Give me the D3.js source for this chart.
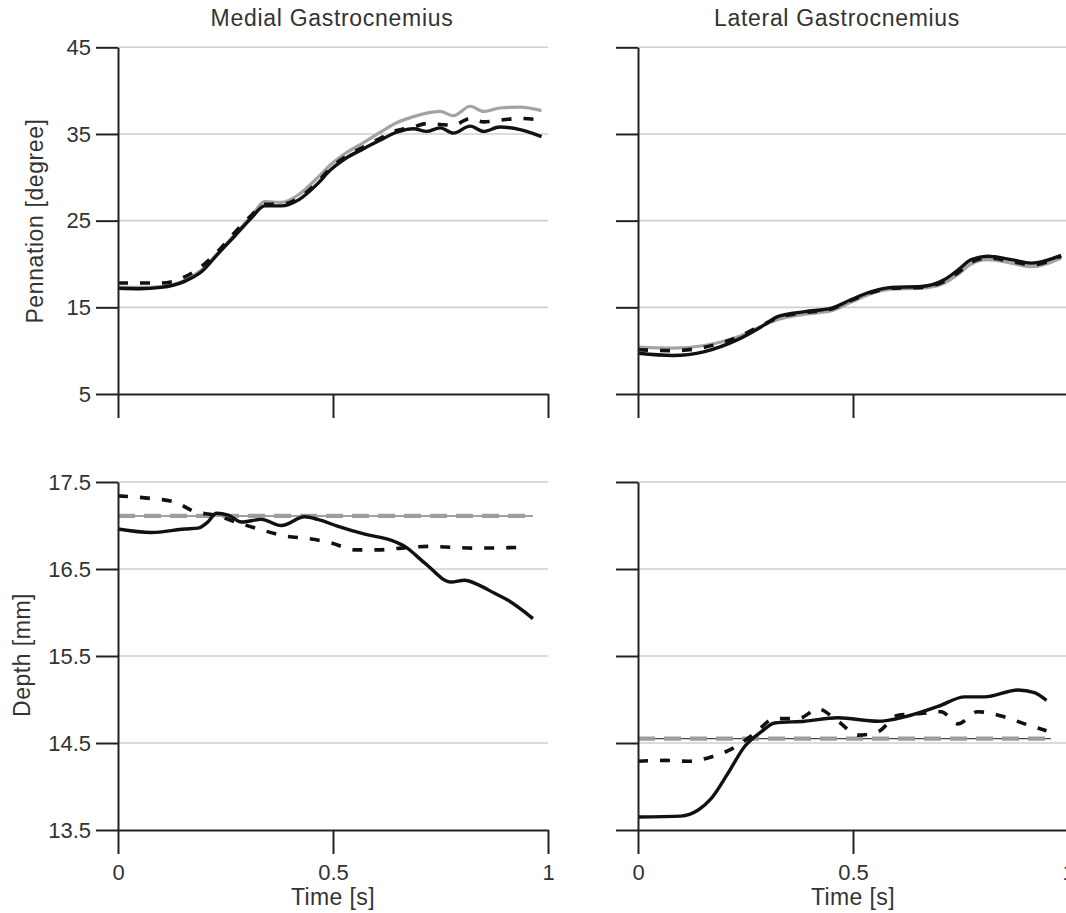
<!DOCTYPE html>
<html>
<head>
<meta charset="utf-8">
<script src="https://cdn.jsdelivr.net/npm/d3@7"></script>
<style>
  html, body { margin: 0; padding: 0; background: #fff; }
  svg { display: block; }
  text { font-family: "Liberation Sans", Arial, Helvetica, sans-serif; fill: #333; }
</style>
</head>
<body>
<svg id="chart" width="1066" height="913"></svg>
<script>
// ---- Pennation angle, medial gastrocnemius ----
const mgPennTime   = [0, 0.05, 0.1, 0.155, 0.194, 0.233, 0.271, 0.31, 0.341, 0.38, 0.42, 0.465, 0.493, 0.53, 0.571, 0.61, 0.648, 0.687, 0.718, 0.749, 0.78, 0.819, 0.85, 0.888, 0.935, 0.985];
const mgPennSolid  = [17.2, 17.15, 17.3, 18.0, 19.1, 21.2, 23.2, 25.3, 26.7, 26.7, 27.4, 29.3, 30.8, 32.2, 33.3, 34.3, 35.2, 35.6, 35.3, 35.7, 35.1, 35.9, 35.3, 35.8, 35.5, 34.7];
const mgPennDashed = [17.8, 17.8, 17.8, 18.5, 19.7, 21.5, 23.6, 25.6, 26.9, 26.9, 27.6, 29.5, 31.0, 32.4, 33.5, 34.5, 35.4, 35.8, 36.2, 36.1, 36.0, 36.8, 36.4, 36.6, 36.8, 36.6];
const mgPennGray   = [17.3, 17.3, 17.4, 18.1, 19.3, 21.3, 23.4, 25.5, 27.2, 27.1, 28.0, 30.0, 31.4, 32.8, 34.0, 35.2, 36.3, 37.0, 37.4, 37.6, 37.1, 38.2, 37.6, 38.0, 38.1, 37.7];

// ---- Pennation angle, lateral gastrocnemius ----
const lgPennTime   = [0, 0.08, 0.155, 0.233, 0.295, 0.326, 0.388, 0.45, 0.496, 0.543, 0.589, 0.659, 0.713, 0.744, 0.775, 0.814, 0.868, 0.915, 0.984];
const lgPennSolid  = [9.7, 9.45, 9.9, 11.3, 13.0, 13.95, 14.5, 14.9, 15.9, 16.8, 17.3, 17.4, 18.2, 19.3, 20.5, 20.9, 20.5, 20.1, 21.0];
const lgPennDashed = [10.1, 10.0, 10.4, 11.6, 13.1, 13.8, 14.4, 14.8, 15.8, 16.7, 17.2, 17.3, 18.0, 19.0, 20.2, 20.7, 20.3, 19.9, 20.9];
const lgPennGray   = [10.4, 10.3, 10.6, 11.6, 13.0, 13.6, 14.2, 14.6, 15.6, 16.6, 17.1, 17.2, 17.8, 18.8, 20.0, 20.5, 20.1, 19.7, 20.7];

// ---- Muscle depth, medial gastrocnemius ----
const mgDepthSolidTime  = [0, 0.078, 0.155, 0.186, 0.209, 0.229, 0.256, 0.287, 0.333, 0.38, 0.434, 0.465, 0.512, 0.574, 0.636, 0.667, 0.713, 0.775, 0.806, 0.837, 0.876, 0.907, 0.965];
const mgDepthSolid      = [16.96, 16.92, 16.96, 16.97, 17.04, 17.14, 17.12, 17.04, 17.07, 17.0, 17.1, 17.07, 16.99, 16.9, 16.83, 16.76, 16.57, 16.35, 16.37, 16.32, 16.22, 16.14, 15.93];
const mgDepthDashedTime = [0, 0.078, 0.132, 0.178, 0.225, 0.28, 0.333, 0.388, 0.442, 0.496, 0.55, 0.605, 0.659, 0.721, 0.829, 0.946];
const mgDepthDashed     = [17.34, 17.31, 17.27, 17.16, 17.12, 17.03, 16.95, 16.88, 16.85, 16.80, 16.72, 16.72, 16.74, 16.76, 16.74, 16.75];
const mgDepthRefTime    = [0, 0.965];
const mgDepthRef        = [17.11, 17.11];

// ---- Muscle depth, lateral gastrocnemius ----
const lgDepthSolidTime  = [0, 0.1, 0.14, 0.17, 0.209, 0.248, 0.287, 0.318, 0.388, 0.465, 0.558, 0.62, 0.698, 0.76, 0.806, 0.884, 0.922, 0.95];
const lgDepthSolid      = [13.65, 13.66, 13.73, 13.86, 14.15, 14.46, 14.63, 14.73, 14.75, 14.79, 14.75, 14.80, 14.92, 15.03, 15.03, 15.11, 15.08, 14.99];
const lgDepthDashedTime = [0, 0.062, 0.116, 0.17, 0.225, 0.271, 0.318, 0.372, 0.419, 0.465, 0.512, 0.558, 0.605, 0.659, 0.705, 0.744, 0.79, 0.845, 0.899, 0.95];
const lgDepthDashed     = [14.29, 14.3, 14.29, 14.34, 14.45, 14.61, 14.78, 14.78, 14.89, 14.75, 14.59, 14.63, 14.82, 14.84, 14.86, 14.72, 14.86, 14.81, 14.72, 14.64];
const lgDepthRefTime    = [0, 0.96];
const lgDepthRef        = [14.55, 14.55];

// ---- Axis ticks and labels ----
const timeTicks   = [0, 0.5, 1];
const pennTicks   = [5, 15, 25, 35, 45];
const depthTicks  = [13.5, 14.5, 15.5, 16.5, 17.5];
const panelTitles = ["Medial Gastrocnemius", "Lateral Gastrocnemius"];
const pennLabel   = "Pennation [degree]";
const depthLabel  = "Depth [mm]";
const timeLabel   = "Time [s]";

const zip = (ts, vs) => ts.map((t, i) => ({ t, v: vs[i] }));

const svg = d3.select("#chart");

// Panel geometry
const cols = [{ x0: 118, x1: 548 }, { x0: 638, x1: 1068 }];
const rows = [
  { y0: 394, y1: 47.3, domain: [5, 45], ticks: pennTicks, fmt: d3.format("d") },
  { y0: 830, y1: 482, domain: [13.5, 17.5], ticks: depthTicks, fmt: d3.format(".1f") }
];

const styles = {
  gray:    { stroke: "#a3a3a3", width: 3.2, dash: null },
  dashed:  { stroke: "#111", width: 3.6, dash: "10,12" },
  solid:   { stroke: "#111", width: 3.4, dash: null },
  refLine: { stroke: "#444", width: 1.1, dash: null },
  refDash: { stroke: "#9d9d9d", width: 4.2, dash: "17,9" }
};

const panels = [
  { r: 0, c: 0, series: [
      ["gray", zip(mgPennTime, mgPennGray)],
      ["dashed", zip(mgPennTime, mgPennDashed)],
      ["solid", zip(mgPennTime, mgPennSolid)] ] },
  { r: 0, c: 1, series: [
      ["gray", zip(lgPennTime, lgPennGray)],
      ["dashed", zip(lgPennTime, lgPennDashed)],
      ["solid", zip(lgPennTime, lgPennSolid)] ] },
  { r: 1, c: 0, series: [
      ["refLine", zip(mgDepthRefTime, mgDepthRef)],
      ["refDash", zip(mgDepthRefTime, mgDepthRef)],
      ["dashed", zip(mgDepthDashedTime, mgDepthDashed)],
      ["solid", zip(mgDepthSolidTime, mgDepthSolid)] ] },
  { r: 1, c: 1, series: [
      ["refLine", zip(lgDepthRefTime, lgDepthRef)],
      ["refDash", zip(lgDepthRefTime, lgDepthRef)],
      ["dashed", zip(lgDepthDashedTime, lgDepthDashed)],
      ["solid", zip(lgDepthSolidTime, lgDepthSolid)] ] }
];

panels.forEach(p => {
  const col = cols[p.c], row = rows[p.r];
  const x = d3.scaleLinear().domain([0, 1]).range([col.x0, col.x1]);
  const y = d3.scaleLinear().domain(row.domain).range([row.y0, row.y1]);
  const g = svg.append("g");

  // horizontal grid
  g.append("g").selectAll("line")
    .data(row.ticks.slice(1))
    .join("line")
    .attr("x1", col.x0).attr("x2", Math.min(col.x1, 1066))
    .attr("y1", d => y(d)).attr("y2", d => y(d))
    .attr("stroke", "#cfcfcf").attr("stroke-width", 1.6);

  // data lines
  const line = d3.line().x(d => x(d.t)).y(d => y(d.v)).curve(d3.curveMonotoneX);
  p.series.forEach(([kind, data]) => {
    const s = styles[kind];
    g.append("path")
      .datum(data)
      .attr("d", line)
      .attr("fill", "none")
      .attr("stroke", s.stroke)
      .attr("stroke-width", s.width)
      .attr("stroke-linejoin", "round")
      .attr("stroke-dasharray", s.dash);
  });

  // y axis
  const yAxis = d3.axisLeft(y).tickValues(row.ticks).tickSize(22).tickSizeOuter(0).tickPadding(5)
    .tickFormat(p.c === 0 ? row.fmt : () => "");
  const ya = g.append("g").attr("transform", `translate(${col.x0},0)`).call(yAxis);

  // x axis
  const xAxis = d3.axisBottom(x).tickValues(timeTicks).tickSize(24).tickSizeOuter(0).tickPadding(10)
    .tickFormat(p.r === 1 ? d3.format("") : () => "");
  const xa = g.append("g").attr("transform", `translate(0,${row.y0})`).call(xAxis);

  [ya, xa].forEach(a => {
    a.selectAll(".domain").attr("stroke", "#222").attr("stroke-width", 2);
    a.selectAll(".tick line").attr("stroke", "#222").attr("stroke-width", 2);
    a.selectAll(".tick text").attr("font-size", 22).attr("fill", "#333")
      .attr("font-family", "Liberation Sans, Arial, sans-serif");
  });

  if (p.r === 1) {
    g.append("text")
      .attr("x", x(0.5)).attr("y", 905)
      .attr("text-anchor", "middle").attr("font-size", 23)
      .attr("letter-spacing", 0.4)
      .text(timeLabel);
  }
});

// panel titles
svg.selectAll(".title")
  .data(panelTitles)
  .join("text")
  .attr("class", "title")
  .attr("x", (d, i) => [332, 837][i])
  .attr("y", 26)
  .attr("text-anchor", "middle")
  .attr("font-size", 23)
  .attr("letter-spacing", 0.7)
  .text(d => d);

// y axis labels
svg.append("text")
  .attr("transform", "translate(43,221) rotate(-90)")
  .attr("text-anchor", "middle").attr("font-size", 23)
  .attr("letter-spacing", 0.6)
  .text(pennLabel);
svg.append("text")
  .attr("transform", "translate(30,655) rotate(-90)")
  .attr("text-anchor", "middle").attr("font-size", 23)
  .attr("letter-spacing", 0.5)
  .text(depthLabel);
</script>
</body>
</html>
